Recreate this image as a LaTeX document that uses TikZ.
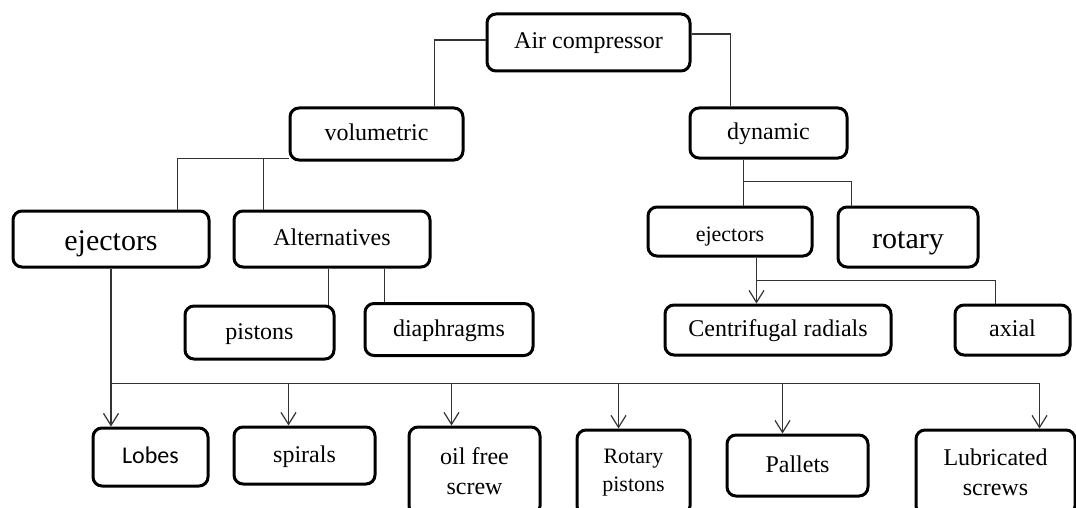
\documentclass[tikz,border=0pt]{standalone}
\usepackage{fontspec}
\setmainfont{Liberation Serif}
\newfontfamily\calfont{Carlito}
\usetikzlibrary{arrows.meta, calc}

\begin{document}
\begin{tikzpicture}[
  x=0.5pt, y=-0.5pt,
  box/.style={draw, line width=1.5pt, rounded corners=4.5pt, inner sep=0pt, align=center, font=\fontsize{12}{15}\selectfont},
  cell/.style={box, text height=9.25pt, text depth=2.75pt},
  big/.style={font=\fontsize{15}{18}\selectfont, text height=12.5pt, text depth=0.8pt},
  small/.style={font=\fontsize{11}{14}\selectfont},
  link/.style={line width=0.6pt, draw=black!80},
  arr/.style={link, -{Straight Barb[length=6pt, width=7.5pt]}}
]
\useasboundingbox (0,0) rectangle (1076,508);
\clip (0,0) rectangle (1076,508);
\node[cell, minimum width=101.5pt, minimum height=28.5pt] (air) at (588.5,42.5) {Air compressor};
\node[cell, minimum width=86.5pt, minimum height=26pt] (vol) at (376.5,134) {volumetric};
\node[cell, minimum width=78.5pt, minimum height=25pt] (dyn) at (768.5,133) {dynamic};
\node[cell, big, minimum width=98pt, minimum height=28pt] (ejL) at (111,239) {ejectors};
\node[cell, minimum width=98pt, minimum height=28pt] (alt) at (332,239) {Alternatives};
\node[cell, small, text height=11pt, text depth=1pt, minimum width=82pt, minimum height=24.5pt] (ejR) at (730,231.5) {ejectors};
\node[cell, big, minimum width=70pt, minimum height=30pt] (rot) at (908,237) {rotary};
\node[cell, minimum width=74.5pt, minimum height=26.5pt] (pis) at (259.5,332.5) {pistons};
\node[cell, minimum width=84pt, minimum height=26pt] (dia) at (449,329.5) {diaphragms};
\node[cell, minimum width=113pt, minimum height=25pt] (cen) at (778,330) {Centrifugal radials};
\node[cell, minimum width=57.5pt, minimum height=25pt] (axi) at (1012.5,330) {axial};
\node[cell, minimum width=57.5pt, minimum height=29pt] (lob) at (150.5,457) {\calfont Lobes};
\node[cell, minimum width=70.5pt, minimum height=28.5pt] (spi) at (304.5,455.5) {spirals};
\node[box, minimum width=65.5pt, minimum height=44pt] (oil) at (474.5,471) {oil free\\screw};
\node[box, small, minimum width=56.5pt, minimum height=42.5pt] (rpi) at (633.5,472.5) {Rotary\\pistons};
\node[cell, minimum width=70.5pt, minimum height=30.5pt] (pal) at (797.5,465.5) {Pallets};
\node[box, minimum width=79.5pt, minimum height=42.5pt] (lub) at (995.5,472.5) {Lubricated\\screws};
\draw[link] ($(air.west)+(0,-2.5)$) -| ($(vol.north west)+(146,0)$);
\draw[link] ($(air.east)+(0,-8.5)$) -| ($(dyn.north west)+(42,0)$);
\draw[link] ($(vol.south west)+(0,-3)$) -| ($(ejL.north west)+(166,0)$);
\draw[link] ($(alt.north west)+(31,0)$) |- ($(vol.south west)+(0,-3)$);
\draw[link] ($(dyn.south west)+(55,0)$) -- ($(ejR.north west)+(97,0)$);
\draw[link] ($(dyn.south west)+(55,22)$) -| ($(rot.north west)+(15,0)$);
\draw[link] ($(alt.south west)+(96,0)$) -- ($(pis.north west)+(145,0)$);
\draw[link] ($(alt.south west)+(152,0)$) -- ($(dia.north west)+(21,0)$);
\draw[arr] ($(ejR.south west)+(110,0)$) -- ($(cen.north west)+(93,0)$);
\draw[link] ($(ejR.south west)+(110,23)$) -| ($(axi.north west)+(42,0)$);
\coordinate (bus) at ($(ejL.south)+(0,115)$);
\draw[arr] (ejL.south) -- (ejL.south |- lob.north);
\draw[arr] (bus) -| ($(lub.north west)+(125,0)$);
\foreach \n/\dx in {spi/56, oil/44, rpi/43, pal/57} {
  \coordinate (t) at ($(\n.north west)+(\dx,0)$);
  \draw[arr] (t |- bus) -- (t);
}
\end{tikzpicture}
\end{document}
